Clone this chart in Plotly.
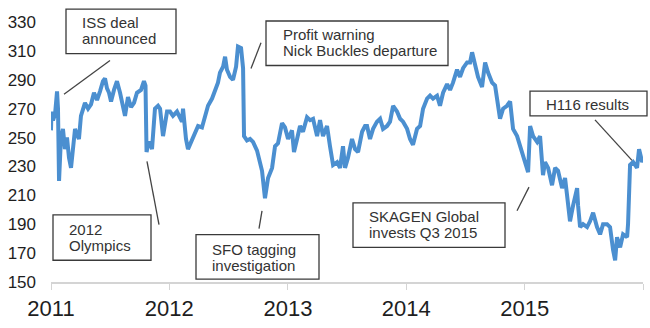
import pandas as pd
import plotly.graph_objects as go

# Share price, pence. Time given as years elapsed since 1 Jan 2011.
t_years = [
    0.000, 0.004, 0.017, 0.034, 0.051, 0.059, 0.068, 0.084, 0.101, 0.118,
    0.135, 0.152, 0.169, 0.186, 0.203, 0.220, 0.236, 0.253, 0.270, 0.287,
    0.313, 0.338, 0.363, 0.389, 0.414, 0.439, 0.456, 0.473, 0.490, 0.507,
    0.532, 0.557, 0.583, 0.608, 0.625, 0.650, 0.676, 0.701, 0.726, 0.760,
    0.785, 0.798, 0.807, 0.819, 0.836, 0.853, 0.878, 0.904, 0.921, 0.946,
    0.980, 1.005, 1.030, 1.064, 1.106, 1.115, 1.140, 1.157, 1.191, 1.216,
    1.242, 1.275, 1.301, 1.326, 1.360, 1.385, 1.410, 1.427, 1.453, 1.470,
    1.486, 1.512, 1.537, 1.563, 1.579, 1.605, 1.622, 1.630, 1.655, 1.681,
    1.706, 1.740, 1.765, 1.782, 1.807, 1.833, 1.867, 1.892, 1.917, 1.951,
    1.976, 2.002, 2.035, 2.052, 2.078, 2.103, 2.128, 2.162, 2.188, 2.213,
    2.247, 2.272, 2.297, 2.331, 2.356, 2.382, 2.416, 2.441, 2.466, 2.483,
    2.508, 2.542, 2.568, 2.593, 2.627, 2.652, 2.669, 2.694, 2.720, 2.753,
    2.779, 2.804, 2.838, 2.863, 2.889, 2.922, 2.948, 2.973, 3.007, 3.032,
    3.057, 3.091, 3.117, 3.142, 3.176, 3.201, 3.226, 3.260, 3.285, 3.311,
    3.345, 3.370, 3.395, 3.429, 3.454, 3.480, 3.514, 3.539, 3.556, 3.581,
    3.606, 3.640, 3.666, 3.691, 3.725, 3.750, 3.775, 3.792, 3.818, 3.851,
    3.877, 3.902, 3.936, 3.961, 3.986, 4.020, 4.029, 4.046, 4.071, 4.105,
    4.130, 4.155, 4.172, 4.198, 4.231, 4.257, 4.282, 4.316, 4.341, 4.358,
    4.383, 4.409, 4.443, 4.451, 4.468, 4.493, 4.527, 4.552, 4.578, 4.611,
    4.637, 4.662, 4.696, 4.721, 4.738, 4.747, 4.764, 4.780, 4.806, 4.831,
    4.865, 4.873, 4.890, 4.916, 4.949, 4.966, 4.992, 5.000,
]
price = [
    255, 268, 262, 266, 282, 270, 220, 250, 256, 242,
    250, 236, 229, 245, 256, 252, 249, 265, 270, 274,
    270, 273, 281, 276, 282, 289, 291, 284, 281, 275,
    283, 289, 281, 272, 265, 278, 271, 274, 281, 283,
    289, 286, 240, 245, 247, 242, 270, 272, 270, 251,
    268, 268, 265, 268, 261, 270, 249, 242, 248, 254,
    258, 257, 265, 272, 277, 283, 288, 295, 299, 306,
    297, 292, 290, 299, 313, 312, 298, 251, 248, 249,
    247, 241, 234, 227, 208, 222, 229, 244, 246, 260,
    257, 249, 255, 240, 249, 258, 254, 264, 262, 263,
    251, 262, 251, 258, 244, 231, 233, 229, 244, 229,
    236, 249, 242, 240, 254, 258, 258, 249, 256, 261,
    263, 256, 258, 261, 272, 268, 263, 261, 256, 249,
    245, 256, 258, 270, 277, 279, 277, 279, 272, 281,
    287, 283, 288, 297, 292, 298, 302, 302, 309, 299,
    292, 285, 302, 295, 288, 286, 274, 263, 270, 272,
    275, 256, 251, 244, 238, 229, 226, 258, 251, 247,
    251, 224, 233, 229, 217, 229, 227, 215, 222, 210,
    192, 203, 215, 203, 188, 190, 188, 192, 198, 188,
    183, 190, 190, 188, 176, 172, 165, 181, 174, 183,
    181, 190, 231, 233, 229, 242, 233, 235,
]

year_ticks = [2011, 2012, 2013, 2014, 2015, 2016]
year_labels = ["2011", "2012", "2013", "2014", "2015", ""]
price_ticks = list(range(150, 331, 20))

start = pd.Timestamp("2011-01-01")
dates = [start + pd.Timedelta(days=t * 365.25) for t in t_years]

fig = go.Figure()
fig.add_trace(go.Scatter(
    x=dates, y=price, mode="lines",
    line=dict(color="#4b8fd0", width=4),
    hoverinfo="skip", showlegend=False,
))

W, H = 650, 328
L, R, T, B = 51, 7, 22, 43
PW, PH = W - L - R, H - T - B


def px(x):
    return (x - L) / PW


def py(y):
    return (T + PH - y) / PH


BOX = "#3a3a3a"
TXT = "#333333"
FONT = "Liberation Sans, Arial, sans-serif"

# callout boxes: (x0, y0, x1, y1) in pixels, text lines (x, y, text), leader line
callouts = [
    ((66, 9, 176, 54), [(80, 23, "ISS deal"), (80, 39, "announced")],
     (110, 61, 64, 95)),
    ((266, 21, 448, 66), [(281, 35, "Profit warning"), (281, 51, "Nick Buckles departure")],
     (261, 43, 251, 69)),
    ((530, 92, 647, 117), [(544, 105, "H116 results")],
     (595, 121, 632, 162)),
    ((53, 217, 151, 263), [(67, 232, "2012"), (67, 248, "Olympics")],
     (147, 163, 159, 227)),
    ((196, 237, 319, 282), [(210, 252, "SFO tagging"), (210, 268, "investigation")],
     (262, 213, 259, 231)),
    ((353, 205, 505, 250), [(367, 219, "SKAGEN Global"), (367, 235, "invests Q3 2015")],
     (529, 189, 517, 213)),
]

shapes, annotations = [], []
for (x0, y0, x1, y1), lines, (lx0, ly0, lx1, ly1) in callouts:
    shapes.append(dict(type="rect", xref="paper", yref="paper",
                       x0=px(x0), x1=px(x1), y0=py(y1), y1=py(y0),
                       line=dict(color=BOX, width=1.3), fillcolor="white",
                       layer="above"))
    shapes.append(dict(type="line", xref="paper", yref="paper",
                       x0=px(lx0), y0=py(ly0), x1=px(lx1), y1=py(ly1),
                       line=dict(color="#444444", width=1.3), layer="above"))
    for tx, ty, text in lines:
        annotations.append(dict(xref="paper", yref="paper", x=px(tx), y=py(ty),
                                xanchor="left", yanchor="middle", showarrow=False,
                                text=text, font=dict(family=FONT, size=15, color=TXT)))

fig.update_layout(
    width=W, height=H, autosize=False,
    margin=dict(l=L, r=R, t=T, b=B),
    paper_bgcolor="white", plot_bgcolor="white",
    shapes=shapes, annotations=annotations,
    xaxis=dict(
        type="date",
        range=[start, pd.Timestamp("2016-01-01")],
        tickvals=[pd.Timestamp(f"{y}-01-01") for y in year_ticks],
        ticktext=year_labels,
        showgrid=False, zeroline=False,
        showline=True, linecolor="#d4d4d4", linewidth=1.6,
        ticks="outside", ticklen=6, tickcolor="#d4d4d4", tickwidth=1.4,
        tickfont=dict(family=FONT, size=22, color="#1e1e1e"),
    ),
    yaxis=dict(
        range=[150, 330],
        tickvals=price_ticks,
        showgrid=False, zeroline=False, showline=False,
        ticks="", ticklabelstandoff=14,
        tickfont=dict(family=FONT, size=17, color="#1e1e1e"),
    ),
)

fig.write_html("out.html")
